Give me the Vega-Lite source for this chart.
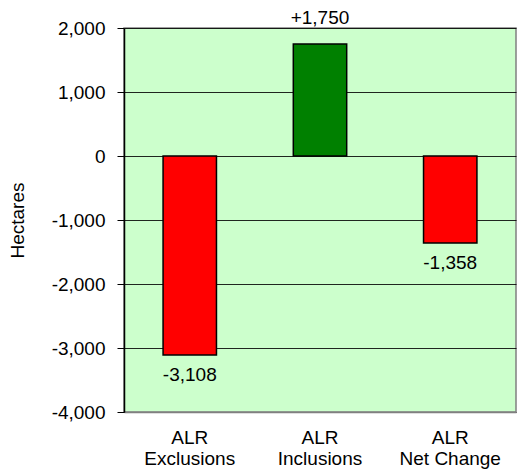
{
  "$schema": "https://vega.github.io/schema/vega-lite/v6.json",
  "autosize": {"type": "none"},
  "padding": {"left": 124, "top": 28, "right": 6, "bottom": 64},
  "width": 392,
  "height": 384,
  "background": "white",
  "config": {
    "font": "Liberation Sans",
    "view": {"fill": "#ccffcc", "stroke": "#808080", "strokeWidth": 1.5}
  },
  "data": {
    "values": [
      {"category": "ALR Exclusions", "value": -3108, "label": "-3,108", "sign": "neg"},
      {"category": "ALR Inclusions", "value": 1750, "label": "+1,750", "sign": "pos"},
      {"category": "ALR Net Change", "value": -1358, "label": "-1,358", "sign": "neg"}
    ]
  },
  "encoding": {
    "x": {
      "field": "category",
      "type": "nominal",
      "sort": null,
      "scale": {"paddingInner": 0.59, "paddingOuter": 0.3},
      "axis": {
        "title": null,
        "labelAngle": 0,
        "labelExpr": "['ALR', substring(datum.label, 4)]",
        "labelFontSize": 19,
        "labelColor": "black",
        "labelLineHeight": 21,
        "labelPadding": 16,
        "ticks": false,
        "domainColor": "#808080",
        "domainWidth": 1.5,
        "grid": false
      }
    },
    "y": {
      "field": "value",
      "type": "quantitative",
      "scale": {"domain": [-4000, 2000], "nice": false},
      "axis": {
        "title": "Hectares",
        "titleFontSize": 19,
        "titleFontWeight": "normal",
        "titleColor": "black",
        "titlePadding": 24,
        "values": [-4000, -3000, -2000, -1000, 0, 1000, 2000],
        "labelExpr": "datum.value < 0 ? '-' + format(-datum.value, ',d') : format(datum.value, ',d')",
        "labelFontSize": 19,
        "labelColor": "black",
        "labelPadding": 12,
        "tickSize": 7,
        "tickColor": "black",
        "domainColor": "black",
        "domainWidth": 1.5,
        "grid": true,
        "gridColor": "black",
        "gridOpacity": 0.85,
        "gridWidth": 1
      }
    }
  },
  "layer": [
    {
      "mark": {"type": "bar", "stroke": "black", "strokeWidth": 1.5},
      "encoding": {
        "color": {
          "field": "sign",
          "type": "nominal",
          "scale": {"domain": ["neg", "pos"], "range": ["#ff0000", "#008000"]},
          "legend": null
        }
      }
    },
    {
      "transform": [{"filter": "datum.value < 0"}],
      "mark": {"type": "text", "baseline": "top", "dy": 11, "fontSize": 19, "color": "black"},
      "encoding": {"text": {"field": "label"}}
    },
    {
      "transform": [{"filter": "datum.value >= 0"}],
      "mark": {"type": "text", "baseline": "alphabetic", "dy": -20, "fontSize": 19, "color": "black"},
      "encoding": {"text": {"field": "label"}}
    }
  ]
}
